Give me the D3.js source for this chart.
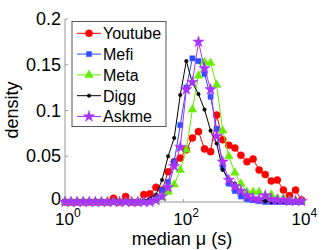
<!DOCTYPE html>
<html><head><meta charset="utf-8">
<script src="https://cdn.jsdelivr.net/npm/d3@7"></script>
<style>body{margin:0;background:#fff}svg{display:block}text{font-family:"Liberation Sans",Arial,sans-serif}</style>
</head><body><svg id="c" width="332" height="250"></svg>
<script>
const xVals=[1,1.266,1.604,2.031,2.572,3.257,4.125,5.224,6.616,8.377,10.61,13.44,17.01,21.54,27.28,34.55,43.75,55.41,70.17,88.86,112.5,142.5,180.5,228.5,289.4,366.5,464.2,587.8,744.4,942.7,1194,1512,1915,2425,3071,3889,4925,6236,7898,10000];
const youtube=[0,0,0,0,0,0,0,0,0.004,0,0.006,0,0,0.008,0.009,0.016,0.013,0.033,0.044,0.048,0.057,0.07,0.077,0.058,0.055,0.095,0.068,0.062,0.059,0.051,0.044,0.047,0.035,0.03,0.023,0.024,0.013,0.007,0.013,0.002];
const mefi=[0,0,0,0,0,0,0,0,0,0,0,0,0,0,0.001,0.005,0.013,0.022,0.044,0.084,0.125,0.157,0.154,0.14,0.115,0.08,0.038,0.02,0.012,0.006,0.003,0.002,0.001,0,0,0,0,0,0,0];
const meta=[0,0,0,0,0,0,0,0,0,0,0,0,0,0,0,0.002,0.005,0.011,0.019,0.035,0.057,0.101,0.138,0.153,0.152,0.128,0.078,0.05,0.032,0.02,0.011,0.011,0.011,0.006,0.008,0.004,0.004,0.002,0.002,0.001];
const digg=[0,0,0,0,0,0,0,0,0,0,0,0,0,0.002,0.004,0.008,0.024,0.05,0.07,0.117,0.154,0.13,0.118,0.101,0.078,0.064,0.035,0.025,0.02,0.011,0.006,0.003,0.003,0.001,0,0,0,0,0,0];
const askme=[0,0,0,0,0,0,0,0,0,0,0,0,0,0,0,0.002,0.006,0.016,0.039,0.06,0.123,0.131,0.175,0.146,0.123,0.072,0.044,0.024,0.017,0.012,0.007,0.004,0.003,0.007,0.003,0.002,0.002,0.001,0.001,0.001];
const seriesNames=["Youtube","Mefi","Meta","Digg","Askme"];
const yTicks=[0,0.05,0.1,0.15,0.2];
const yTickLabels=["0","0.05","0.1","0.15","0.2"];
const xTicks=[1,100,10000];
const xTickExp=["0","2","4"];

const series=[
 {name:"Youtube",vals:youtube,color:"#ff0000",sym:d3.symbolCircle,size:40},
 {name:"Mefi",vals:mefi,color:"#2a4dff",sym:d3.symbolSquare,size:26},
 {name:"Meta",vals:meta,color:"#66ee00",sym:d3.symbolTriangle,size:32},
 {name:"Digg",vals:digg,color:"#000000",sym:d3.symbolCircle,size:10},
 {name:"Askme",vals:askme,color:"#aa33ff",sym:d3.symbolStar,size:40}
];
const svg=d3.select("#c");
const x=d3.scaleLog().domain([1,10000]).range([65,301.6]);
const y=d3.scaleLinear().domain([0,0.2]).range([202,19]);
const axisCol="#999";
const g=svg.append("g");
g.append("line").attr("x1",65).attr("x2",65).attr("y1",y(0.2)).attr("y2",y(0)).attr("stroke",axisCol);
g.append("line").attr("x1",65).attr("x2",301.6).attr("y1",y(0)).attr("y2",y(0)).attr("stroke",axisCol);
yTicks.forEach((t,i)=>{
 g.append("line").attr("x1",65).attr("x2",68).attr("y1",y(t)).attr("y2",y(t)).attr("stroke",axisCol);
 g.append("text").attr("x",61).attr("y",y(t)+(t===0?3:6)).attr("text-anchor","end").attr("font-size",18).text(yTickLabels[i]);
});
xTicks.forEach((t,i)=>{
 g.append("line").attr("x1",x(t)).attr("x2",x(t)).attr("y1",y(0)).attr("y2",y(0)-3).attr("stroke",axisCol);
 const tx=g.append("text").attr("x",x(t)-10).attr("y",224.5).attr("font-size",17);
 tx.append("tspan").text("10");
 tx.append("tspan").attr("dy",-8).attr("font-size",12).text(xTickExp[i]);
});
g.append("text").attr("x",182).attr("y",245).attr("text-anchor","middle").attr("font-size",18).text("median μ (s)");
g.append("text").attr("transform","translate(18,110) rotate(-90)").attr("text-anchor","middle").attr("font-size",18).text("density");
const line=d3.line().x((d,i)=>x(xVals[i])).y(d=>y(d));
series.forEach(s=>{
 g.append("path").datum(s.vals).attr("d",line).attr("fill","none").attr("stroke",s.color).attr("stroke-width",1);
 g.selectAll(null).data(s.vals).enter().append("path")
  .attr("d",d3.symbol().type(s.sym).size(s.size))
  .attr("transform",(d,i)=>`translate(${x(xVals[i])},${y(d)})`)
  .attr("fill",s.color).attr("stroke",s.color).attr("stroke-width",0.5);
});
const lg=svg.append("g");
lg.append("rect").attr("x",72).attr("y",21.5).attr("width",94).attr("height",105).attr("fill","#fff").attr("stroke","#555");
series.forEach((s,i)=>{
 const ly=33.3+i*20.8;
 lg.append("line").attr("x1",77).attr("x2",101).attr("y1",ly).attr("y2",ly).attr("stroke",s.color);
 lg.append("path").attr("d",d3.symbol().type(s.sym).size(s.size)).attr("transform",`translate(89,${ly})`).attr("fill",s.color).attr("stroke",s.color).attr("stroke-width",0.5);
 lg.append("text").attr("x",103).attr("y",ly+5.8).attr("font-size",16).text(s.name);
});
</script></body></html>
